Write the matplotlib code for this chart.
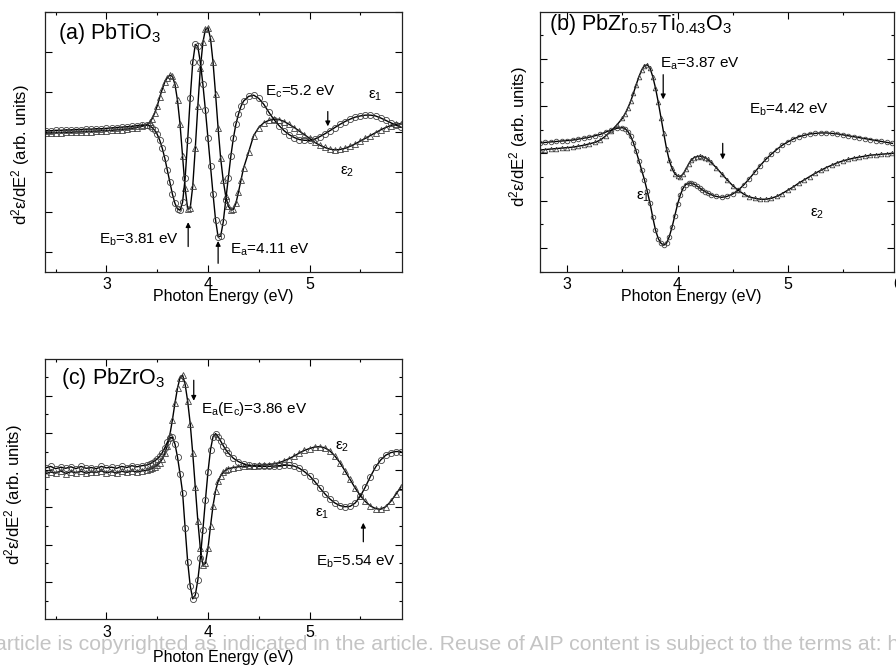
import numpy as np
import matplotlib.pyplot as plt
from matplotlib.ticker import MultipleLocator

plt.rcParams.update({
    "font.family": ["Liberation Sans", "DejaVu Sans"],
    "mathtext.fontset": "custom",
    "mathtext.rm": "Liberation Sans",
    "mathtext.it": "Liberation Sans",
    "mathtext.default": "regular",
})


def grid(*parts):
    return np.round(np.concatenate([np.arange(a, b + s / 2, s) for a, b, s in parts]), 3)


# ---- (a) PbTiO3 ----
energi_a = grid((2.40, 3.40, 0.05), (3.425, 4.35, 0.025), (4.40, 5.90, 0.05))
eps1_a = [0.04, 0.04, 0.05, 0.05, 0.06, 0.06, 0.07, 0.07, 0.08, 0.08, 0.09, 0.09, 0.10, 0.11, 0.12, 0.13, 0.14, 0.15, 0.17, 0.18, 0.18,
          0.16, 0.12, 0.05, -0.05, -0.20, -0.40, -0.65, -0.95, -1.25, -1.55, -1.78, -1.92, -1.95, -1.75, -1.15, -0.20,
          0.85, 1.75, 2.20, 2.15, 1.75, 1.20, 0.55, -0.15, -0.85, -1.55, -2.20, -2.62, -2.60, -2.25, -1.70, -1.15,
          -0.60, -0.15, 0.20, 0.45, 0.65, 0.78,
          0.90, 0.93, 0.85, 0.70, 0.50, 0.32, 0.17, 0.04, -0.06, -0.13, -0.18, -0.20, -0.20, -0.17, -0.11, -0.04,
          0.04, 0.12, 0.20, 0.27, 0.33, 0.38, 0.41, 0.43, 0.43, 0.41, 0.36, 0.30, 0.24, 0.18, 0.13]
eps2_a = [-0.02, -0.02, -0.01, -0.01, 0.00, 0.00, 0.01, 0.01, 0.02, 0.02, 0.03, 0.04, 0.04, 0.05, 0.06, 0.07, 0.08, 0.10, 0.12, 0.15, 0.19,
          0.25, 0.34, 0.48, 0.66, 0.88, 1.08, 1.26, 1.37, 1.43, 1.40, 1.20, 0.80, 0.20, -0.60, -1.40, -1.92,
          -1.90, -1.35, -0.40, 0.65, 1.60, 2.25, 2.58, 2.62, 2.35, 1.75, 0.95, 0.10, -0.65, -1.20, -1.60, -1.85,
          -1.94, -1.93, -1.78, -1.50, -1.20, -0.90,
          -0.50, -0.08, 0.12, 0.24, 0.30, 0.33, 0.32, 0.27, 0.20, 0.12, 0.03, -0.06, -0.15, -0.25, -0.32, -0.38,
          -0.42, -0.44, -0.43, -0.40, -0.35, -0.29, -0.22, -0.15, -0.08, -0.01, 0.06, 0.12, 0.17, 0.20, 0.22]

# ---- (b) PbZr0.57Ti0.43O3 ----
energi_b = grid((2.75, 3.50, 0.05), (3.525, 4.30, 0.025), (4.35, 5.95, 0.05))
eps1_b = [0.22, 0.23, 0.24, 0.25, 0.26, 0.27, 0.28, 0.30, 0.32, 0.34, 0.37, 0.40, 0.45, 0.49, 0.53, 0.54,
          0.52, 0.46, 0.36, 0.22, 0.04, -0.16, -0.36, -0.56, -0.80, -1.05, -1.35, -1.62, -1.80, -1.90, -1.94, -1.90,
          -1.76, -1.56, -1.32, -1.08, -0.88, -0.74, -0.66, -0.63, -0.63, -0.65, -0.69, -0.73, -0.77, -0.81, -0.84, -0.87,
          -0.91, -0.93, -0.91, -0.86, -0.78, -0.67, -0.54, -0.40, -0.26, -0.13, -0.02, 0.08, 0.17, 0.24, 0.30, 0.35,
          0.38, 0.41, 0.42, 0.43, 0.43, 0.42, 0.41, 0.39, 0.37, 0.35, 0.33, 0.31, 0.29, 0.27, 0.25, 0.23, 0.21]
eps2_b = [0.07, 0.08, 0.09, 0.10, 0.11, 0.12, 0.13, 0.15, 0.17, 0.20, 0.23, 0.28, 0.37, 0.48, 0.60, 0.74,
          0.84, 0.96, 1.10, 1.27, 1.45, 1.62, 1.76, 1.85, 1.87, 1.80, 1.62, 1.38, 1.08, 0.75, 0.42, 0.10,
          -0.15, -0.32, -0.43, -0.48, -0.49, -0.44, -0.34, -0.23, -0.14, -0.09, -0.07, -0.06, -0.07, -0.09, -0.13, -0.18,
          -0.30, -0.43, -0.56, -0.68, -0.78, -0.86, -0.92, -0.95, -0.97, -0.97, -0.95, -0.91, -0.85, -0.78, -0.71, -0.63,
          -0.56, -0.49, -0.42, -0.36, -0.30, -0.25, -0.20, -0.16, -0.13, -0.10, -0.08, -0.06, -0.04, -0.03, -0.02, -0.01, 0.00]

# ---- (c) PbZrO3 ----
energi_c = grid((2.40, 3.40, 0.05), (3.425, 4.20, 0.025), (4.25, 5.90, 0.05))
eps1_c = [0.06, 0.10, 0.04, 0.08, 0.05, 0.09, 0.04, 0.10, 0.05, 0.07, 0.04, 0.10, 0.06, 0.08, 0.05, 0.10, 0.07, 0.12, 0.09, 0.12, 0.14,
          0.17, 0.20, 0.25, 0.30, 0.37, 0.47, 0.60, 0.75, 0.87, 0.88, 0.70, 0.35, -0.10, -0.60, -1.55, -2.45,
          -3.10, -3.45, -3.35, -2.95, -2.35, -1.60, -0.80, -0.05, 0.55, 0.90, 0.98, 0.90, 0.78, 0.66, 0.55, 0.46,
          0.32, 0.23, 0.17, 0.13, 0.11, 0.10, 0.10, 0.10, 0.11, 0.12, 0.13, 0.13, 0.11, 0.05, -0.04, -0.15, -0.30,
          -0.47, -0.63, -0.77, -0.88, -0.95, -0.98, -0.97, -0.88, -0.70, -0.45, -0.17, 0.08, 0.27, 0.40, 0.47, 0.50, 0.50]
eps2_c = [-0.10, -0.05, -0.08, -0.02, -0.09, -0.04, -0.07, -0.03, -0.08, -0.05, -0.06, -0.02, -0.07, -0.04, -0.08, -0.03, -0.06, -0.02, -0.05, -0.02, 0.00,
          0.02, 0.05, 0.09, 0.13, 0.20, 0.30, 0.45, 0.65, 0.95, 1.35, 1.80, 2.20, 2.48, 2.55, 2.30, 1.85,
          1.25, 0.45, -0.45, -1.35, -2.10, -2.55, -2.50, -2.10, -1.50, -0.95, -0.55, -0.30, -0.15, -0.06, 0.00, 0.04,
          0.07, 0.09, 0.10, 0.11, 0.12, 0.13, 0.14, 0.15, 0.17, 0.20, 0.25, 0.31, 0.38, 0.46, 0.53, 0.58, 0.62,
          0.63, 0.60, 0.52, 0.38, 0.20, -0.02, -0.25, -0.48, -0.68, -0.84, -0.96, -1.03, -1.05, -0.98, -0.84, -0.65, -0.45]

W, H = 896, 666
fig = plt.figure(figsize=(W / 100, H / 100), dpi=100)


def kotak(x0, y0, x1, y1):
    return fig.add_axes([x0 / W, 1 - y1 / H, (x1 - x0) / W, (y1 - y0) / H])


ax_a = kotak(45, 11.7, 401.7, 271.7)
ax_b = kotak(540, 11.7, 894.3, 271.7)
ax_c = kotak(45, 359, 401.7, 619)

ylab = r"d$^2$ε/dE$^2$ (arb. units)"


def panel(ax, E, e1, e2, ms, xlim, ylim, ytick_minor):
    ax.plot(E, e2, "-", color="k", lw=1.0, marker="^", ms=ms, mfc="none", mec="#404040", mew=0.6)
    ax.plot(E, e1, "-", color="k", lw=1.0, marker="o", ms=ms, mfc="none", mec="#404040", mew=0.6)
    ax.set_xlim(*xlim)
    ax.set_ylim(*ylim)
    ax.xaxis.set_major_locator(MultipleLocator(1))
    ax.xaxis.set_minor_locator(MultipleLocator(0.5))
    ax.yaxis.set_major_locator(MultipleLocator(1))
    if ytick_minor:
        ax.yaxis.set_minor_locator(MultipleLocator(0.5))
    else:
        ax.yaxis.set_minor_locator(plt.NullLocator())
    ax.tick_params(which="both", direction="in", top=True, right=True, width=0.8, labelleft=False,
                   labelsize=11.5, pad=4)
    ax.tick_params(which="major", length=5)
    ax.tick_params(which="minor", length=2.5)
    for s in ax.spines.values():
        s.set_linewidth(0.9)
        s.set_color("#222222")
    ax.set_xlabel("Photon Energy (eV)", fontsize=11.5)
    ax.set_ylabel(ylab, fontsize=12)


def panah(ax, x, y0, y1):
    ax.annotate("", xy=(x, y1), xytext=(x, y0),
                arrowprops=dict(arrowstyle="-|>", lw=0.9, color="k", mutation_scale=7, shrinkA=0, shrinkB=0))


# (a)
panel(ax_a, energi_a, eps1_a, eps2_a, 4.4, (2.395, 5.908), (-3.49, 3.02), False)
ax_a.text(2.52, 2.47, r"(a) PbTiO$_3$", fontsize=15.5, va="center")
ax_a.text(4.56, 1.02, r"E$_c$=5.2 eV", fontsize=11, va="center")
panah(ax_a, 5.18, 0.52, 0.15)
ax_a.text(5.58, 0.92, r"ε$_1$", fontsize=11, va="center")
ax_a.text(5.30, -0.98, r"ε$_2$", fontsize=11, va="center")
ax_a.text(2.93, -2.69, r"E$_b$=3.81 eV", fontsize=11, va="center")
panah(ax_a, 3.805, -2.86, -2.25)
ax_a.text(4.215, -2.94, r"E$_a$=4.11 eV", fontsize=11, va="center")
panah(ax_a, 4.10, -3.28, -2.72)
ax_a.xaxis.set_label_coords(0.5, -0.065)
ax_a.yaxis.set_label_coords(-0.036, 0.45)

# (b)
panel(ax_b, energi_b, eps1_b, eps2_b, 3.3, (2.752, 5.967), (-2.50, 2.99), True)
ax_b.text(2.83, 2.71, r"(b) PbZr$_{0.57}$Ti$_{0.43}$O$_3$", fontsize=15.5, va="center")
ax_b.text(3.84, 1.90, r"E$_a$=3.87 eV", fontsize=11, va="center")
panah(ax_b, 3.87, 1.66, 1.14)
ax_b.text(4.65, 0.92, r"E$_b$=4.42 eV", fontsize=11, va="center")
panah(ax_b, 4.41, 0.21, -0.13)
ax_b.text(3.62, -0.92, r"ε$_1$", fontsize=11, va="center")
ax_b.text(5.20, -1.27, r"ε$_2$", fontsize=11, va="center")
ax_b.text(6.0, -4 / 72 * 100 / 260, "6", transform=ax_b.get_xaxis_transform(), ha="center", va="top", fontsize=11.5)
ax_b.xaxis.set_label_coords(0.426, -0.065)
ax_b.yaxis.set_label_coords(-0.028, 0.52)

# (c)
panel(ax_c, energi_c, eps1_c, eps2_c, 4.4, (2.395, 5.908), (-3.99, 2.98), True)
ax_c.text(2.55, 2.46, r"(c) PbZrO$_3$", fontsize=15.5, va="center")
panah(ax_c, 3.86, 2.41, 1.86)
ax_c.text(3.93, 1.65, r"E$_a$(E$_c$)=3.86 eV", fontsize=11, va="center")
ax_c.text(5.25, 0.63, r"ε$_2$", fontsize=11, va="center")
ax_c.text(5.05, -1.16, r"ε$_1$", fontsize=11, va="center")
panah(ax_c, 5.53, -1.92, -1.41)
ax_c.text(5.06, -2.46, r"E$_b$=5.54 eV", fontsize=11, va="center")
ax_c.xaxis.set_label_coords(0.5, -0.118)
ax_c.yaxis.set_label_coords(-0.056, 0.48)

fig.text(-0.006, 1 - 645 / H,
         "article is copyrighted as indicated in the article. Reuse of AIP content is subject to the terms at: h",
         family="Liberation Sans", fontsize=15.3, color="#c4c4c4",
         va="center", ha="left", zorder=-1)

fig.savefig("out.png", dpi=100)
